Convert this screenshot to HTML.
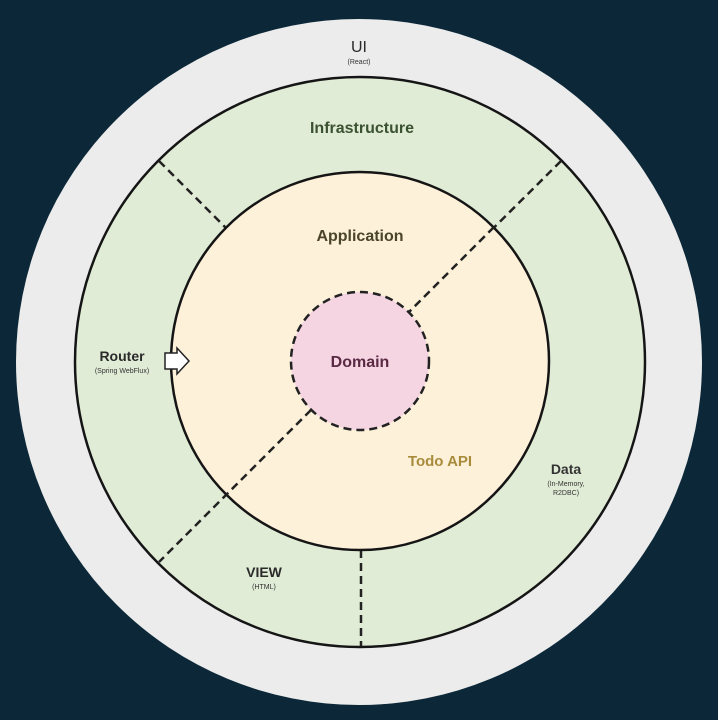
<!DOCTYPE html>
<html><head><meta charset="utf-8"><style>
html,body{margin:0;padding:0;background:#0c2838;}
svg{display:block}
text{font-family:"Liberation Sans",sans-serif;text-anchor:middle}
</style></head><body>
<svg width="718" height="720" viewBox="0 0 718 720">
<rect width="718" height="720" fill="#0c2838"/>
<circle cx="359" cy="362" r="343" fill="#ececec"/>
<circle cx="360" cy="362" r="285" fill="#e1ecd6" stroke="#151515" stroke-width="2.5"/>
<g stroke="#222" stroke-width="2.5" stroke-dasharray="8,5" fill="none">
<line x1="159" y1="161" x2="226" y2="228"/>
<line x1="561" y1="161" x2="409" y2="312"/>
<line x1="311" y1="410" x2="159" y2="562"/>
<line x1="361" y1="550" x2="361" y2="646"/>
</g>
<circle cx="360" cy="361" r="189" fill="#fdf1da" stroke="#151515" stroke-width="2.5"/>
<g stroke="#222" stroke-width="2.5" stroke-dasharray="8,5" fill="none">
<line x1="494" y1="227" x2="409" y2="312"/>
<line x1="311" y1="410" x2="226" y2="495"/>
</g>
<circle cx="360" cy="361" r="69" fill="#f5d5e2" stroke="#222" stroke-width="2.5" stroke-dasharray="8,5"/>
<polygon points="165,353 177,353 177,348 189,361 177,374 177,369 165,369" fill="#fff" stroke="#222" stroke-width="1.5"/>
<text x="359" y="52" font-size="16" fill="#2a2a2a">UI</text>
<text x="359" y="64" font-size="7" fill="#333">(React)</text>
<text x="362" y="133" font-size="16" font-weight="bold" fill="#3b5232">Infrastructure</text>
<text x="360" y="241" font-size="16" font-weight="bold" fill="#4a4428">Application</text>
<text x="360" y="367" font-size="16" font-weight="bold" fill="#5a2a44">Domain</text>
<text x="440" y="466" font-size="15" font-weight="bold" fill="#a88c3c">Todo API</text>
<text x="122" y="361" font-size="14" font-weight="bold" fill="#2a2a2a">Router</text>
<text x="122" y="373" font-size="7" fill="#333">(Spring WebFlux)</text>
<text x="566" y="474" font-size="14" font-weight="bold" fill="#333">Data</text>
<text x="566" y="486" font-size="7" fill="#333">(In-Memory,</text>
<text x="566" y="495" font-size="7" fill="#333">R2DBC)</text>
<text x="264" y="577" font-size="14" font-weight="bold" fill="#2a2a2a">VIEW</text>
<text x="264" y="589" font-size="7" fill="#333">(HTML)</text>
</svg>
</body></html>
